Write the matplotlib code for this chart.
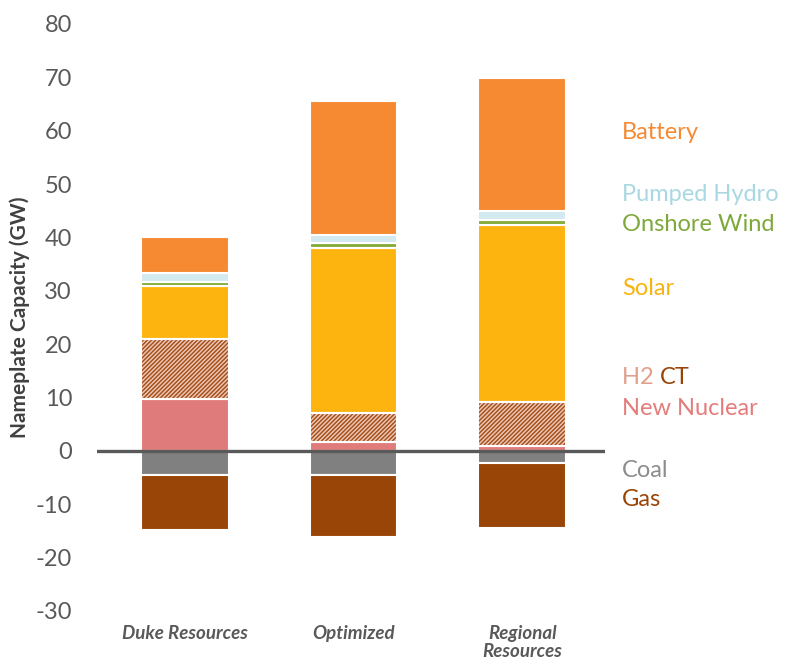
import matplotlib
matplotlib.use('Agg')
from matplotlib import pyplot as plt
from matplotlib import transforms
import numpy as np

# scenarios
scenarios = ['Duke Resources', 'Optimized', 'Regional\nResources']

# positive additions (GW), stacked bottom to top
new_nuclear = [9.7, 1.75, 0.9]
h2_ct = [11.35, 5.35, 8.3]
solar = [9.85, 30.9, 33.15]
onshore_wind = [0.8, 1.0, 1.0]
pumped_hydro = [1.7, 1.5, 1.65]
battery = [6.6, 25.1, 24.9]

# retirements (GW), stacked downward
coal = [-4.5, -4.5, -2.3]
gas = [-10.3, -11.6, -12.1]

plt.rcParams['font.family'] = ['Lato', 'DejaVu Sans']
plt.rcParams['axes.unicode_minus'] = False
plt.rcParams['hatch.linewidth'] = 1.0

fig = plt.figure(figsize=(7.85, 6.66), dpi=100)
ax = fig.add_axes([0.1236, 0.0826, 0.6472, 0.8814])

x = np.arange(len(scenarios))
width = 0.52
gap = dict(edgecolor='white', linewidth=1.5)

pos_series = [
    ('New Nuclear', new_nuclear, '#E07B7B'),
    ('H2 CT', h2_ct, '#EBC4B6'),
    ('Solar', solar, '#FDB40F'),
    ('Onshore Wind', onshore_wind, '#86AC3A'),
    ('Pumped Hydro', pumped_hydro, '#D3EAF0'),
    ('Battery', battery, '#F68A33'),
]

bottom = np.zeros(len(x))
for name, vals, color in pos_series:
    vals = np.array(vals)
    if name == 'H2 CT':
        # hatched brown stripes on a light pink base
        ax.bar(x, vals, width, bottom=bottom, color=color, edgecolor='#A24C12',
               hatch='////////', linewidth=0, zorder=2)
        ax.bar(x, vals, width, bottom=bottom, fill=False, zorder=2.5, **gap)
    else:
        ax.bar(x, vals, width, bottom=bottom, color=color, zorder=2, **gap)
    bottom += vals

neg_bottom = np.zeros(len(x))
for name, vals, color in [('Coal', coal, '#808080'), ('Gas', gas, '#9A4508')]:
    vals = np.array(vals)
    ax.bar(x, vals, width, bottom=neg_bottom, color=color, zorder=2, **gap)
    neg_bottom += vals

ax.axhline(0, color='#595959', linewidth=2.4, zorder=5)

ax.set_ylim(-30, 80)
ax.set_xlim(-0.52, 2.49)
ax.set_yticks(np.arange(-30, 81, 10))
ax.set_xticks(x)
ax.set_xticklabels(scenarios, fontsize=13.5, fontweight='bold', fontstyle='italic',
                   color='#595959', linespacing=1.1)
ax.tick_params(axis='x', length=0, pad=10)
ax.tick_params(axis='y', length=0, pad=18, labelsize=17, labelcolor='#595959')
for s in ax.spines.values():
    s.set_visible(False)
ax.set_ylabel('Nameplate Capacity (GW)', fontsize=15, fontweight='bold',
              color='#404040', labelpad=4)

# right-hand labels
trans = transforms.blended_transform_factory(ax.transAxes, ax.transData)
labels = [('Battery', 59.6, '#F68A33'),
          ('Pumped Hydro', 48.0, '#A9D8E2'),
          ('Onshore Wind', 42.4, '#7EA83A'),
          ('Solar', 30.5, '#F9B30E'),
          ('New Nuclear', 7.9, '#E57C7C'),
          ('Coal', -3.6, '#8C8C8C'),
          ('Gas', -9.2, '#9A4508')]
lx = 1.033
fs = 17
for text, yv, color in labels:
    ax.text(lx, yv, text, transform=trans, fontsize=fs, color=color,
            va='center', ha='left')
t = ax.text(lx, 13.7, 'H2 ', transform=trans, fontsize=fs, color='#E0A08C',
            va='center', ha='left')
ax.annotate('CT', xy=(1, 0.5), xycoords=t, fontsize=fs, color='#9A4508',
            va='center', ha='left')

plt.savefig('out.png', dpi=100)
plt.close(fig)
